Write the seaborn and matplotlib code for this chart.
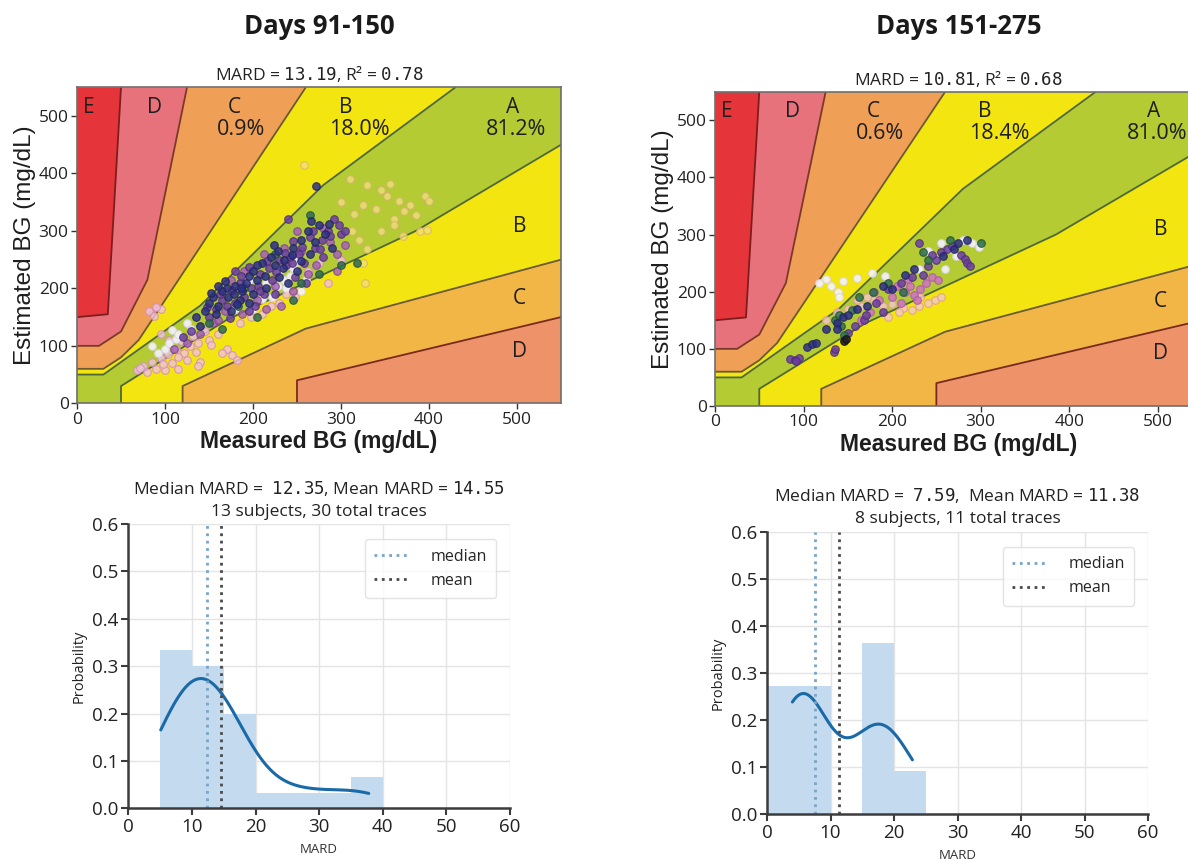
import matplotlib
matplotlib.use("Agg")
import matplotlib.pyplot as plt
import numpy as np
import pandas as pd
import seaborn as sns

sns.set_theme(style="white")
plt.rcParams["font.family"] = ["Open Sans", "DejaVu Sans"]
plt.rcParams["mathtext.fontset"] = "dejavusans"

# ---------------- Parkes consensus error grid (type 1), mg/dL ----------------
A_UP = [(0, 50), (30, 50), (140, 170), (280, 380), (430, 550)]
A_LO = [(50, 0), (50, 30), (170, 145), (385, 300), (550, 450)]
B_UP = [(0, 60), (30, 60), (50, 80), (70, 110), (260, 550)]
B_LO = [(120, 0), (120, 30), (260, 130), (550, 250)]
C_UP = [(0, 100), (25, 100), (50, 125), (80, 215), (125, 550)]
C_LO = [(250, 0), (250, 40), (550, 150)]
D_UP = [(0, 150), (35, 155), (50, 550)]
GRID_MAX = 550

ZONE_FILL = {
    "E_up": "#e5343a", "D_up": "#e8727b", "C_up": "#efa056", "B_up": "#f3e510",
    "A": "#b4cb34", "B_lo": "#f3e510", "C_lo": "#f1b646", "D_lo": "#ee9269",
}
LINE_COLORS = {
    "D_UP": "#7d1d1d", "C_UP": "#7b3a27", "B_UP": "#6b5a32", "A_UP": "#4e6838",
    "A_LO": "#4e6838", "B_LO": "#6b5a32", "C_LO": "#7a2a1c",
}

# Zone letters and their placement (measured, estimated)
ZONE_LETTERS = [("E", 13, 515), ("D", 88, 515), ("C", 179, 515), ("B", 305, 515),
                ("A", 495, 515), ("B", 503, 308), ("C", 503, 182), ("D", 503, 91)]
PCT_POS = [(186, 477), (321, 477), (499, 477)]   # C, B, A percentages

PANEL_TITLES = ["Days 91-150", "Days 151-275"]
GRID_MARD = [13.19, 10.81]
GRID_R2 = [0.78, 0.68]
PCT_C = ["0.9%", "0.6%"]
PCT_B = ["18.0%", "18.4%"]
PCT_A = ["81.2%", "81.0%"]

# ---------------- paired readings, days 91-150 (measured, estimated) ----------------
L_NAVY = [(145, 160), (150, 175), (155, 185), (160, 170), (165, 195), (170, 200), (172, 185),
          (178, 190), (180, 205), (185, 180), (188, 195), (192, 210), (195, 175), (200, 230),
          (205, 215), (210, 245), (215, 200), (220, 255), (225, 240), (228, 265), (235, 250),
          (240, 210), (245, 270), (250, 230), (255, 285), (262, 300), (270, 280), (275, 310),
          (282, 295), (290, 270), (160, 205), (175, 160), (135, 150), (140, 135), (200, 190),
          (230, 220), (265, 260), (272, 378), (152, 192), (168, 212), (182, 172), (196, 222),
          (204, 240), (214, 222), (224, 275), (234, 235), (244, 258), (254, 248), (266, 318),
          (286, 312), (158, 156), (186, 200)]
L_PURPLE = [(150, 150), (158, 165), (165, 180), (170, 170), (180, 175), (185, 210), (190, 185),
            (198, 200), (202, 170), (208, 225), (212, 190), (218, 235), (222, 215), (230, 250),
            (238, 240), (242, 255), (248, 220), (252, 260), (258, 245), (265, 290), (270, 270),
            (278, 285), (285, 300), (292, 320), (300, 295), (305, 300), (240, 320), (225, 190),
            (195, 160), (260, 210), (280, 255), (180, 230), (130, 125), (120, 115), (148, 168),
            (162, 190), (176, 198), (186, 222), (196, 238), (206, 205), (216, 248), (226, 228),
            (236, 262), (246, 282), (256, 272), (268, 300), (276, 268), (288, 292), (298, 310),
            (174, 148), (208, 195), (244, 244)]
L_VIOLET = [(140, 120), (155, 140), (168, 160), (175, 215), (190, 230), (205, 180), (215, 165),
            (225, 205), (235, 270), (245, 195), (255, 265), (262, 225), (272, 240), (287, 280),
            (295, 260), (305, 275), (232, 170), (212, 260), (188, 155), (160, 145), (296, 230),
            (280, 305), (250, 300), (125, 105), (110, 95)]
L_PINK = [(68, 58), (75, 65), (80, 55), (85, 72), (90, 60), (95, 78), (100, 58), (103, 85),
          (108, 70), (112, 95), (115, 60), (118, 108), (122, 88), (128, 100), (132, 118),
          (138, 105), (145, 125), (150, 110), (82, 160), (88, 152), (95, 165), (90, 168),
          (170, 95), (176, 84), (182, 75), (165, 88), (140, 72), (137, 65), (160, 120),
          (198, 150), (210, 155), (220, 170), (248, 185), (230, 175), (285, 210), (300, 250),
          (95, 120), (105, 110), (125, 75), (72, 62), (98, 68), (115, 80), (135, 90),
          (152, 102), (185, 140), (238, 190), (262, 230), (275, 245)]
L_WHITE = [(85, 100), (100, 95), (108, 128), (112, 112), (125, 140), (130, 130), (105, 105),
           (200, 165), (222, 185), (235, 215), (245, 235), (250, 250), (238, 200), (195, 215),
           (180, 165), (260, 215), (255, 195), (230, 230), (215, 210), (92, 88), (115, 120),
           (210, 182), (228, 205), (242, 222)]
L_TEAL = [(150, 140), (165, 130), (183, 170), (205, 150), (245, 180), (275, 225), (265, 328),
          (300, 240), (318, 245), (255, 210), (190, 200), (225, 260)]
L_TAN = [(310, 390), (330, 380), (345, 372), (356, 382), (352, 360), (366, 352), (372, 335),
         (378, 345), (385, 328), (395, 360), (400, 352), (325, 345), (340, 338), (360, 320),
         (390, 300), (398, 302), (370, 292), (345, 300), (320, 285), (330, 268), (327, 210),
         (325, 245), (258, 415), (312, 300), (360, 310), (300, 350), (315, 330), (250, 240)]

# ---------------- paired readings, days 151-275 ----------------
R_PURPLE = [(85, 83), (90, 80), (95, 84), (92, 78), (134, 95), (135, 100), (150, 128),
            (158, 140), (168, 150), (170, 160), (195, 205), (210, 215), (222, 225), (235, 230),
            (240, 245), (250, 255), (255, 270), (262, 275), (268, 280), (278, 265), (282, 258),
            (285, 250), (288, 245), (230, 285), (245, 265), (182, 180), (190, 165)]
R_NAVY = [(104, 104), (110, 108), (114, 110), (125, 135), (138, 145), (145, 155), (150, 160),
          (160, 170), (172, 175), (190, 210), (200, 205), (215, 230), (225, 240), (258, 262),
          (270, 275), (275, 285), (285, 290), (138, 135)]
R_GREEN = [(135, 150), (140, 160), (142, 140), (155, 168), (163, 190), (178, 200), (212, 200),
           (240, 255), (235, 270), (265, 290), (300, 285), (146, 125), (195, 215)]
R_BLACK = [(146, 114), (148, 118)]
R_WHITE = [(118, 215), (125, 222), (131, 210), (139, 200), (140, 190), (145, 218), (160, 224),
           (177, 232), (192, 228), (248, 258), (255, 285), (265, 275), (272, 262), (290, 285),
           (298, 278), (260, 240), (230, 240), (240, 272), (280, 290)]
R_PINK = [(200, 190), (210, 180), (215, 200), (220, 210), (225, 195), (228, 185), (232, 205),
          (238, 215), (245, 225), (205, 210), (218, 222), (185, 185), (175, 165), (165, 150),
          (252, 220), (180, 200)]
R_RING = [(125, 150), (138, 165), (150, 170), (165, 175), (180, 185), (190, 175), (200, 178),
          (212, 172), (222, 168), (230, 175), (240, 180), (248, 185), (255, 190), (232, 190),
          (208, 165), (195, 155), (160, 185), (172, 190)]

# marker styles: (face, edge, alpha)
STYLE = {
    "navy": ("#2c2f86", "#1f2160", 0.85), "purple": ("#6b3fa2", "#4e2c7a", 0.85),
    "violet": ("#a35cbb", "#7d3f93", 0.8), "pink": ("#eec4dc", "#d58ab8", 0.8),
    "white": ("#f6f4fb", "#d9d6ea", 0.9), "teal": ("#2f6a55", "#21503f", 0.85),
    "tan": ("#f0e27a", "#ddaa78", 0.75), "green": ("#2f7050", "#20503a", 0.85),
    "black": ("#222222", "#111111", 0.9), "magenta": ("#cf72c2", "#ad5aa2", 0.85),
    "ring": ("#f1c9c9", "#e39a8e", 0.8),
}
LEFT_GROUPS = [("pink", L_PINK), ("tan", L_TAN), ("white", L_WHITE), ("violet", L_VIOLET),
               ("purple", L_PURPLE), ("teal", L_TEAL), ("navy", L_NAVY)]
RIGHT_GROUPS = [("ring", R_RING), ("white", R_WHITE), ("magenta", R_PINK),
                ("purple", R_PURPLE), ("green", R_GREEN), ("navy", R_NAVY), ("black", R_BLACK)]

# ---------------- per-trace MARD values ----------------
MARD_91_150 = [5.1, 5.4, 5.9, 6.5, 7.2, 7.9, 8.5, 9.0, 9.5, 9.9,
               10.4, 11.0, 11.5, 11.9, 12.2, 12.5, 13.1, 13.8, 14.6,
               15.1, 15.5, 16.0, 16.5, 17.2, 18.5,
               22.6, 26.0, 30.1, 35.3, 37.8]
MARD_151_275 = [4.0, 4.49, 4.9, 5.5, 6.8, 7.59, 15.5, 16.7, 17.8, 19.0, 22.9]
MEDIAN_MARD = [12.35, 7.59]
MEAN_MARD = [14.55, 11.38]
SUBJECTS = [13, 8]
TRACES = [30, 11]
HIST_BINS = [np.arange(5, 45, 5), np.arange(0, 30, 5)]
KDE_BW = [1.06, 0.95]

W, H = 1188, 861
fig = plt.figure(figsize=(W / 100, H / 100), dpi=100)


def px_axes(x0, y_top, x1, y_bot):
    return fig.add_axes([x0 / W, 1 - y_bot / H, (x1 - x0) / W, (y_bot - y_top) / H])


def mono(value):
    return r"$\mathtt{" + f"{value:.2f}" + "}$"


def zone_polygons():
    top = (0, GRID_MAX)
    return [
        ("E_up", D_UP + [top]),
        ("D_up", C_UP + D_UP[::-1]),
        ("C_up", B_UP + C_UP[::-1]),
        ("B_up", A_UP + B_UP[::-1]),
        ("A", [(0, 0)] + A_LO + [(GRID_MAX, GRID_MAX)] + A_UP[::-1]),
        ("B_lo", A_LO + B_LO[::-1]),
        ("C_lo", B_LO + C_LO[::-1]),
        ("D_lo", C_LO + [(GRID_MAX, 0)]),
    ]


def draw_grid(ax, k, groups):
    for name, poly in zone_polygons():
        xs, ys = zip(*poly)
        ax.fill(xs, ys, color=ZONE_FILL[name], lw=0, zorder=0)
    for key, line in [("D_UP", D_UP), ("C_UP", C_UP), ("B_UP", B_UP), ("A_UP", A_UP),
                      ("A_LO", A_LO), ("B_LO", B_LO), ("C_LO", C_LO)]:
        xs, ys = zip(*line)
        ax.plot(xs, ys, color=LINE_COLORS[key], lw=1.3, zorder=1)
    for name, pts in groups:
        face, edge, alpha = STYLE[name]
        df = pd.DataFrame(pts, columns=["measured", "estimated"])
        sns.scatterplot(data=df, x="measured", y="estimated", ax=ax, color=face,
                        edgecolor=edge, linewidth=0.8, s=30, alpha=alpha, zorder=5)
    for letter, x, y in ZONE_LETTERS:
        ax.text(x, y, letter, ha="center", va="center", fontsize=15, color="#1e1e1e", zorder=6)
    for (x, y), pct in zip(PCT_POS, [PCT_C[k], PCT_B[k], PCT_A[k]]):
        ax.text(x, y, pct, ha="center", va="center", fontsize=15.5, color="#1e1e1e", zorder=6)
    ax.set_xlim(0, GRID_MAX)
    ax.set_ylim(0, GRID_MAX)
    ax.set_xticks([0, 100, 200, 300, 400, 500])
    ax.set_yticks([0, 100, 200, 300, 400, 500])
    ax.tick_params(axis="both", labelsize=12.5, length=4, width=1, color="#333333",
                   labelcolor="#222222", pad=2, bottom=True, left=True)
    for sp in ax.spines.values():
        sp.set_color("#6e6e6e")
        sp.set_linewidth(1.2)
    ax.set_xlabel("Measured BG (mg/dL)", fontsize=16.5, fontweight="bold",
                  family=["Liberation Sans", "DejaVu Sans"], color="#1e1e1e", labelpad=2)
    ax.set_ylabel("Estimated BG (mg/dL)", fontsize=17.5,
                  family=["Liberation Sans", "DejaVu Sans"], color="#1e1e1e", labelpad=2)
    ax.set_title(f"MARD = {mono(GRID_MARD[k])}, R\u00b2 = {mono(GRID_R2[k])}",
                 fontsize=12.5, color="#222222", pad=5)


def draw_hist(ax, k, values):
    ax.set_axisbelow(True)
    ax.grid(True, color="#e4e4e4", lw=1)
    sns.histplot(x=values, bins=HIST_BINS[k], stat="probability", kde=True,
                 kde_kws=dict(cut=0, bw_adjust=KDE_BW[k]), color="#1b6aa8", alpha=1,
                 linewidth=0, line_kws=dict(lw=2.2), ax=ax)
    for bar in ax.patches:
        bar.set_facecolor("#c4dbef")
    ax.axvline(MEDIAN_MARD[k], ls=":", lw=2, color="#78a4c6", label="median")
    ax.axvline(MEAN_MARD[k], ls=":", lw=2, color="#4a4a4a", label="mean")
    ax.set_xlim(0, 60)
    ax.set_ylim(0, 0.6)
    ax.set_xticks(range(0, 61, 10))
    ax.set_yticks(np.arange(0, 0.61, 0.1))
    ax.yaxis.set_major_formatter(matplotlib.ticker.FormatStrFormatter("%.1f"))
    for side in ("top", "right"):
        ax.spines[side].set_visible(False)
    for side in ("left", "bottom"):
        ax.spines[side].set_color("#3c3c3c")
        ax.spines[side].set_linewidth(1.8)
    ax.tick_params(axis="both", labelsize=13.5, length=5, width=1.5, color="#3c3c3c",
                   labelcolor="#222222", bottom=True, left=True, pad=2)
    ax.set_xlabel("MARD", fontsize=9.5, color="#333333", labelpad=5)
    ax.set_ylabel("Probability", fontsize=10.5, color="#222222", labelpad=4)
    gap = "  " if k == 1 else " "
    ax.set_title(f"Median MARD =  {mono(MEDIAN_MARD[k])},{gap}Mean MARD = {mono(MEAN_MARD[k])}\n"
                 f"{SUBJECTS[k]} subjects, {TRACES[k]} total traces",
                 fontsize=12.5, color="#222222", pad=6, linespacing=1.5)
    leg = ax.legend(loc="upper right", fontsize=11.5, frameon=True, handlelength=2.2,
                    borderpad=0.6, labelspacing=0.5, handletextpad=1.3,
                    bbox_to_anchor=(0.985, 0.975))
    leg.get_frame().set_edgecolor("#dddddd")
    leg.get_frame().set_linewidth(1)


ax_gl = px_axes(77, 87.3, 561, 403.3)
ax_gr = px_axes(715, 91.7, 1202, 406)
ax_hl = px_axes(128.3, 524, 510, 808.3)
ax_hr = px_axes(767, 531.7, 1148, 814.3)

draw_grid(ax_gl, 0, LEFT_GROUPS)
draw_grid(ax_gr, 1, RIGHT_GROUPS)
draw_hist(ax_hl, 0, MARD_91_150)
draw_hist(ax_hr, 1, MARD_151_275)

for ax, title in zip([ax_gl, ax_gr], PANEL_TITLES):
    pos = ax.get_position()
    cx = min(pos.x0 + pos.width / 2, 1.0)
    fig.text(cx, 1 - 27 / H, title, ha="center", va="center", fontsize=18.5,
             fontweight="bold", color="#1a1a1a")

fig.savefig("out.png", dpi=100)
